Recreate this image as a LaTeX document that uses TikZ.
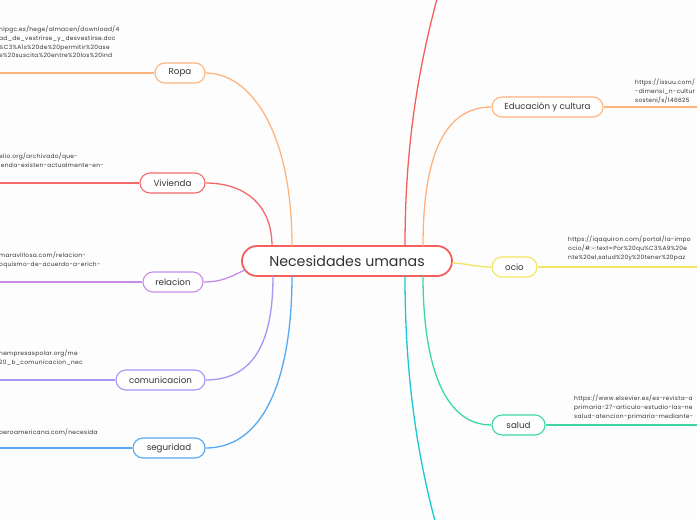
\documentclass[tikz,border=0pt]{standalone}
\usepackage{fontspec}
\setmainfont{Poppins}
\newfontfamily\linkfont[LetterSpace=5]{Poppins}
\definecolor{bgc}{HTML}{FDFDFD}
\definecolor{cmain}{HTML}{F25F5C}
\definecolor{cropa}{HTML}{FDB47F}
\definecolor{cviv}{HTML}{F46A6A}
\definecolor{crel}{HTML}{C68DE8}
\definecolor{ccom}{HTML}{A895F5}
\definecolor{cseg}{HTML}{56A8F0}
\definecolor{cedu}{HTML}{FFB27B}
\definecolor{cocio}{HTML}{F3E561}
\definecolor{csal}{HTML}{3DD9A0}
\definecolor{ccyan}{HTML}{19C8D5}
\definecolor{ctxt}{HTML}{333333}
\begin{document}
\begin{tikzpicture}[x=1pt,y=-1pt,
  topic/.style={draw=#1, line width=1.1pt, rounded corners=10pt, fill=white, minimum height=20pt, inner sep=0pt, font=\fontsize{8.7}{10}\selectfont, text=ctxt},
  conn/.style={draw=#1, line width=1.3pt},
  linktext/.style={inner sep=0pt, align=left, font=\linkfont\fontsize{5.9}{8.7}\selectfont, text=ctxt, anchor=north west}]
\path[fill=bgc] (0,0) rectangle (697,520);
\useasboundingbox (0,0) rectangle (697,520);

% central
\node[draw=cmain, line width=1.8pt, rounded corners=15pt, fill=white, minimum width=210pt, minimum height=30pt, inner sep=0pt, font=\fontsize{14.2}{16}\selectfont, text=ctxt] (c) at (347,261) {Necesidades umanas};

% left topics
\node[topic=cropa, minimum width=50pt] (ropa) at (180,73) {Ropa};
\node[topic=cviv, minimum width=65pt] (viv) at (172.5,183) {Vivienda};
\node[topic=crel, minimum width=60pt] (rel) at (173,282) {relacion};
\node[topic=ccom, minimum width=89pt] (com) at (160.5,380) {comunicacion};
\node[topic=cseg, minimum width=72pt] (seg) at (169,448) {seguridad};

% right topics
\node[topic=cedu, minimum width=111pt] (edu) at (547.5,107) {Educación y cultura};
\node[topic=cocio, minimum width=45pt] (ocio) at (514.5,267) {ocio};
\node[topic=csal, minimum width=53pt] (sal) at (518.5,425) {salud};

% free ends
\coordinate (lropa) at (0,73);
\coordinate (lviv) at (0,183);
\coordinate (lrel) at (0,282);
\coordinate (lcom) at (0,380);
\coordinate (lseg) at (0,448);
\coordinate (redu) at (697,107);
\coordinate (rocio) at (697,267);
\coordinate (rsal) at (697,425);
\coordinate (ttop) at (440,-12);
\coordinate (tbot) at (438,532);

% connectors to center
\draw[conn=cropa] (ropa.east) .. controls (250,73) and (292,130) .. (292,246);
\draw[conn=cviv] (viv.east) .. controls (245,183) and (272,205) .. (272,246);
\draw[conn=crel] (rel.east) .. controls (225,282) and (235,274) .. (245,270);
\draw[conn=ccom] (com.east) .. controls (258,380) and (273,335) .. (273,276);
\draw[conn=cseg] (seg.east) .. controls (270,448) and (292,365) .. (292,276);
\draw[conn=cedu] (edu.west) .. controls (440,107) and (423,165) .. (423,246);
\draw[conn=cocio] (ocio.west) .. controls (475,267) and (465,263) .. (452,263);
\draw[conn=csal] (sal.west) .. controls (440,425) and (423,355) .. (423,276);
\draw[conn=cmain] (405,246) .. controls (405,140) and (420,60) .. (ttop);
\draw[conn=ccyan] (405,276) .. controls (405,380) and (418,460) .. (tbot);

% outer lines
\draw[conn=cropa] (ropa.west) -- (lropa);
\draw[conn=cviv] (viv.west) -- (lviv);
\draw[conn=crel] (rel.west) -- (lrel);
\draw[conn=ccom] (com.west) -- (lcom);
\draw[conn=cseg] (seg.west) -- (lseg);
\draw[conn=cedu] (edu.east) -- (redu);
\draw[conn=cocio] (ocio.east) -- (rocio);
\draw[conn=csal] (sal.east) -- (rsal);

% link texts
\node[linktext] (t1) at (-1,26) {nlpgc.es/hege/almacen/download/4\\ad\_de\_vestrirse\_y\_desvestirse.doc\\\%C3\%A1s\%20de\%20permitir\%20ase\\e\%20suscita\%20entre\%20los\%20ind};
\node[linktext] (t2) at (-1,153) {elio.org/archivado/que-\\ienda-existen-actualmente-en-};
\node[linktext] (t3) at (-1,252) {maravillosa.com/relacion-\\oquismo-de-acuerdo-a-erich-};
\node[linktext] (t4) at (-1,350) {nempresaspolar.org/me\\20\_b\_comunicacion\_nec};
\node[linktext] (t5) at (-1,429) {beroamericana.com/necesida};
\node[linktext] (t6) at (635,79) {https://issuu.com/\\-dimensi\_n-cultur\\sosteni/s/146625};
\node[linktext] (t7) at (568,236) {https://iqaquiron.com/portal/la-impo\\ocio/\#:\textasciitilde:text=Por\%20qu\%C3\%A9\%20e\\nte\%20el,salud\%20y\%20tener\%20paz};
\node[linktext] (t8) at (574,395) {https://www.elsevier.es/es-revista-a\\primaria-27-articulo-estudio-las-ne\\salud-atencion-primaria-mediante-};
\end{tikzpicture}
\end{document}
